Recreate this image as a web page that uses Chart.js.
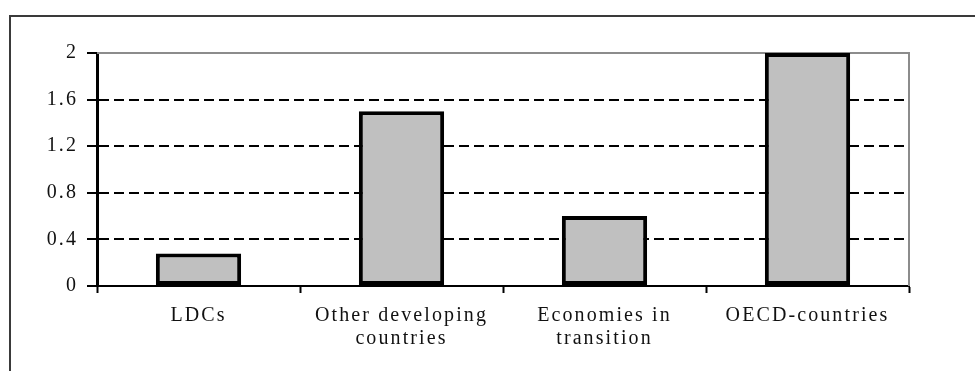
<!DOCTYPE html>
<html>
<head>
<meta charset="utf-8">
<script src="https://cdn.jsdelivr.net/npm/chart.js@4/dist/chart.umd.min.js"></script>
<style>
    html, body { margin: 0; padding: 0; background: #fff; }
    #wrap { width: 975px; height: 371px; }
</style>
</head>
<body>
<div id="wrap"><canvas id="myChart" width="975" height="371"></canvas></div>
<script>
// Categories and values
const categories = [
    'LDCs',
    ['Other developing', 'countries'],
    ['Economies in', 'transition'],
    'OECD-countries'
];
const values = [0.28, 1.5, 0.6, 2.0];
const yTicks = [0, 0.4, 0.8, 1.2, 1.6, 2];

// Frame, plot border and letter spacing for the serif labels
const framePlugin = {
    id: 'frame',
    beforeDraw(chart) {
        const ctx = chart.ctx;
        ctx.letterSpacing = '2.1px';
        ctx.save();
        ctx.strokeStyle = '#3a3a3a';
        ctx.lineWidth = 2;
        ctx.beginPath();
        ctx.moveTo(10, chart.height);
        ctx.lineTo(10, 16);
        ctx.lineTo(chart.width, 16);
        ctx.stroke();
        ctx.restore();
    },
    beforeDatasetsDraw(chart) {
        const {ctx, chartArea: a} = chart;
        ctx.save();
        ctx.strokeStyle = '#8c8c8c';
        ctx.lineWidth = 2;
        ctx.beginPath();
        ctx.moveTo(a.left, a.top);
        ctx.lineTo(a.right, a.top);
        ctx.lineTo(a.right, a.bottom);
        ctx.stroke();
        ctx.restore();
    }
};

const tickFont = { family: "'Liberation Serif', 'Times New Roman', serif", size: 20, lineHeight: 1.15 };

const config = {
    type: 'bar',
    data: {
        labels: categories,
        datasets: [{
            data: values,
            backgroundColor: '#c0c0c0',
            borderColor: '#000',
            borderWidth: 4,
            borderSkipped: false,
            barPercentage: 0.84,
            categoryPercentage: 0.5
        }]
    },
    options: {
        responsive: false,
        animation: false,
        layout: { padding: { top: 53, right: 66, left: 0, bottom: 0 } },
        plugins: {
            legend: { display: false },
            tooltip: { enabled: false }
        },
        scales: {
            x: {
                grid: {
                    offset: true,
                    drawOnChartArea: false,
                    drawTicks: true,
                    tickLength: 7,
                    tickColor: '#000',
                    tickWidth: 2
                },
                border: { display: true, color: '#000', width: 2 },
                ticks: {
                    color: '#111',
                    font: tickFont,
                    padding: 11,
                    maxRotation: 0
                },
                afterFit(scale) { scale.height = 85; }
            },
            y: {
                min: 0,
                max: 2,
                afterBuildTicks(scale) {
                    scale.ticks = yTicks.map(v => ({ value: v }));
                },
                grid: {
                    color: c => (c.tick && (c.tick.value === 0 || c.tick.value === 2)) ? 'rgba(0,0,0,0)' : '#000',
                    lineWidth: 2,
                    drawTicks: true,
                    tickLength: 10,
                    tickColor: '#000',
                    tickWidth: 2
                },
                border: { display: true, color: '#000', width: 3, dash: [10, 5] },
                ticks: {
                    color: '#111',
                    font: tickFont,
                    padding: 9,
                    callback: v => String(v)
                },
                afterFit(scale) { scale.width = 97; }
            }
        }
    },
    plugins: [framePlugin]
};

var myChart = new Chart(document.getElementById('myChart'), config);
</script>
</body>
</html>
